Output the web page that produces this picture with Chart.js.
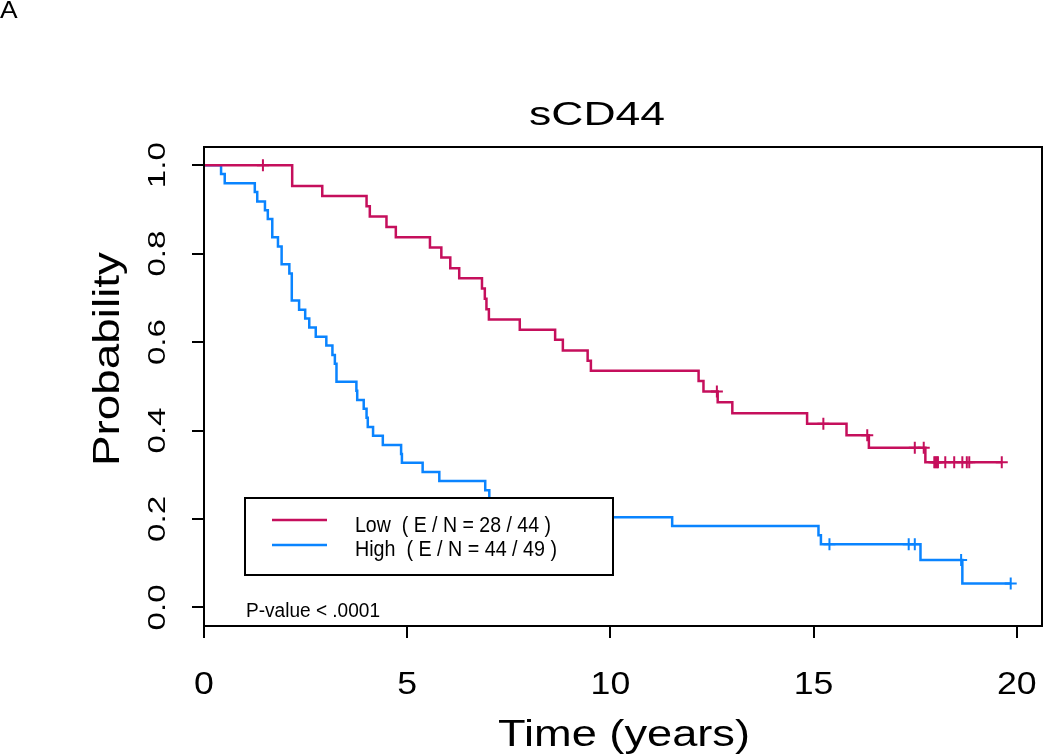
<!DOCTYPE html>
<html>
<head>
<meta charset="utf-8">
<script src="https://cdn.jsdelivr.net/npm/chart.js@4.4.1/dist/chart.umd.min.js"></script>
<style>
  html, body { margin: 0; padding: 0; background: #fff; }
  canvas { display: block; }
</style>
</head>
<body>
<canvas id="km" width="1050" height="756"></canvas>
<script>
// Kaplan-Meier data (time in years, survival probability)
var lowTimes = [0, 2.17, 2.91, 4.00, 4.08, 4.49, 4.72, 5.56, 5.84, 6.06, 6.28, 6.84, 6.91, 6.95, 7.01, 7.77, 8.64, 8.83, 9.44, 9.52, 12.17, 12.29, 12.64, 13.00, 14.84, 15.81, 16.36, 17.75, 19.63];
var lowSurv  = [1.0, 0.953, 0.930, 0.907, 0.884, 0.860, 0.837, 0.814, 0.791, 0.767, 0.744, 0.721, 0.698, 0.674, 0.651, 0.628, 0.605, 0.581, 0.558, 0.535, 0.512, 0.488, 0.464, 0.439, 0.415, 0.389, 0.361, 0.328, 0.328];
var lowCensor = [1.45, 12.62, 15.24, 16.32, 17.49, 17.71, 17.97, 18.00, 18.03, 18.06, 18.24, 18.46, 18.66, 18.77, 18.83, 19.63];

var highTimes = [0, 0.42, 0.51, 1.25, 1.31, 1.50, 1.57, 1.68, 1.82, 1.91, 2.10, 2.16, 2.34, 2.49, 2.59, 2.75, 3.01, 3.16, 3.22, 3.26, 3.75, 3.77, 3.93, 4.00, 4.03, 4.16, 4.40, 4.85, 4.87, 5.38, 5.79, 6.92, 7.02, 7.40, 7.90, 11.52, 15.12, 15.18, 17.63, 18.66, 19.85];
var highSurv  = [1.0, 0.980, 0.959, 0.939, 0.918, 0.898, 0.878, 0.837, 0.816, 0.776, 0.755, 0.694, 0.673, 0.653, 0.633, 0.612, 0.592, 0.571, 0.551, 0.510, 0.490, 0.469, 0.449, 0.429, 0.408, 0.388, 0.367, 0.347, 0.327, 0.306, 0.286, 0.265, 0.245, 0.224, 0.204, 0.184, 0.163, 0.143, 0.107, 0.054, 0.054];
var highCensor = [15.39, 17.34, 17.49, 18.63, 19.85];

var xTicks = [0, 5, 10, 15, 20];
var yTicks = [0.0, 0.2, 0.4, 0.6, 0.8, 1.0];
var xTickLabels = ['0', '5', '10', '15', '20'];
var yTickLabels = ['0.0', '0.2', '0.4', '0.6', '0.8', '1.0'];

var legendLabels = ['Low  ( E / N = 28 / 44 )', 'High  ( E / N = 44 / 49 )'];
var pValueText = 'P-value < .0001';

var redColor = '#C50F5C';
var blueColor = '#0A84FF';
var FONT = '"Liberation Sans", Arial, Helvetica, sans-serif';

function toPoints(ts, ss) {
    var pts = [];
    for (let i = 0; i < ts.length; i++) pts.push({ x: ts[i], y: ss[i] });
    return pts;
}

// survival value at time t (step function) so censor marks sit on the curve
function survAt(ts, ss, t) {
    var s = ss[0];
    for (let i = 0; i < ts.length; i++) {
        if (ts[i] <= t) s = ss[i];
    }
    return s;
}

function censorPoints(ts, ss, cs) {
    return cs.map(function (c) { return { x: c, y: survAt(ts, ss, c) }; });
}

// text drawn with a horizontal stretch so it matches the wide R glyphs
function drawText(ctx, str, x, y, size, opts) {
    opts = opts || {};
    ctx.save();
    ctx.font = size + 'px ' + FONT;
    ctx.fillStyle = '#000';
    ctx.textBaseline = 'alphabetic';
    ctx.translate(x, y);
    if (opts.rotate) ctx.rotate(opts.rotate);
    var w = ctx.measureText(str).width;
    var sx = opts.width ? opts.width / w : (opts.sx || 1);
    ctx.scale(sx, 1);
    var off = 0;
    if (opts.align === 'center') off = -w / 2;
    if (opts.align === 'right') off = -w;
    ctx.fillText(str, off, 0);
    ctx.restore();
}

var decorPlugin = {
    id: 'decor',
    afterDatasetsDraw: function (chart) {
        var ctx = chart.ctx;
        var a = chart.chartArea;
        var xs = chart.scales.x, ys = chart.scales.y;

        // plot box
        ctx.save();
        ctx.strokeStyle = '#000';
        ctx.lineWidth = 2;
        ctx.strokeRect(a.left, a.top, a.right - a.left, a.bottom - a.top);

        // ticks
        ctx.beginPath();
        xTicks.forEach(function (v) {
            var px = Math.round(xs.getPixelForValue(v));
            ctx.moveTo(px, a.bottom);
            ctx.lineTo(px, a.bottom + 12);
        });
        yTicks.forEach(function (v) {
            var py = Math.round(ys.getPixelForValue(v));
            ctx.moveTo(a.left, py);
            ctx.lineTo(a.left - 12, py);
        });
        ctx.stroke();

        // legend box
        var lx = 245, ly = 498, lw = 368, lh = 77;
        ctx.fillStyle = '#fff';
        ctx.fillRect(lx, ly, lw, lh);
        ctx.strokeRect(lx, ly, lw, lh);
        ctx.lineWidth = 2.5;
        ctx.strokeStyle = redColor;
        ctx.beginPath(); ctx.moveTo(272, 520); ctx.lineTo(327, 520); ctx.stroke();
        ctx.strokeStyle = blueColor;
        ctx.beginPath(); ctx.moveTo(272, 545); ctx.lineTo(327, 545); ctx.stroke();
        ctx.restore();

        drawText(ctx, legendLabels[0], 355, 532, 22.5, { width: 196 });
        drawText(ctx, legendLabels[1], 355, 556, 22.5, { width: 202 });
        drawText(ctx, pValueText, 246, 617, 20, { width: 134 });

        // tick labels
        xTicks.forEach(function (v, i) {
            drawText(ctx, xTickLabels[i], xs.getPixelForValue(v), 694, 31, { align: 'center', sx: 1.15 });
        });
        yTicks.forEach(function (v, i) {
            drawText(ctx, yTickLabels[i], 165, ys.getPixelForValue(v), 24, { align: 'center', sx: 1.38, rotate: -Math.PI / 2 });
        });

        // titles
        drawText(ctx, 'sCD44', 597, 125, 32.5, { align: 'center', width: 136 });
        drawText(ctx, 'Time (years)', 624, 746, 36, { align: 'center', width: 252 });
        drawText(ctx, 'Probability', 119, 359, 36, { align: 'center', width: 214, rotate: -Math.PI / 2 });
        drawText(ctx, 'A', 0, 18, 24, { sx: 1.1 });
    }
};

var ctx = document.getElementById('km').getContext('2d');
var chart = new Chart(ctx, {
    type: 'line',
    data: {
        datasets: [{
            label: 'Low',
            data: toPoints(lowTimes, lowSurv),
            borderColor: redColor,
            borderWidth: 2.5,
            stepped: 'before',
            pointRadius: 0,
            fill: false
        }, {
            label: 'High',
            data: toPoints(highTimes, highSurv),
            borderColor: blueColor,
            borderWidth: 2.5,
            stepped: 'before',
            pointRadius: 0,
            fill: false
        }, {
            label: 'Low censored',
            data: censorPoints(lowTimes, lowSurv, lowCensor),
            showLine: false,
            pointStyle: 'cross',
            pointRadius: 6,
            pointBorderWidth: 2,
            pointBorderColor: redColor,
            pointBackgroundColor: redColor
        }, {
            label: 'High censored',
            data: censorPoints(highTimes, highSurv, highCensor),
            showLine: false,
            pointStyle: 'cross',
            pointRadius: 6,
            pointBorderWidth: 2,
            pointBorderColor: blueColor,
            pointBackgroundColor: blueColor
        }]
    },
    options: {
        responsive: false,
        animation: false,
        layout: { padding: { left: 204, right: 3, top: 147, bottom: 130 } },
        plugins: {
            legend: { display: false },
            tooltip: { enabled: false }
        },
        scales: {
            x: { type: 'linear', display: false, min: 0, max: 20.62 },
            y: { type: 'linear', display: false, min: -0.042, max: 1.041 }
        }
    },
    plugins: [decorPlugin]
});
</script>
</body>
</html>
